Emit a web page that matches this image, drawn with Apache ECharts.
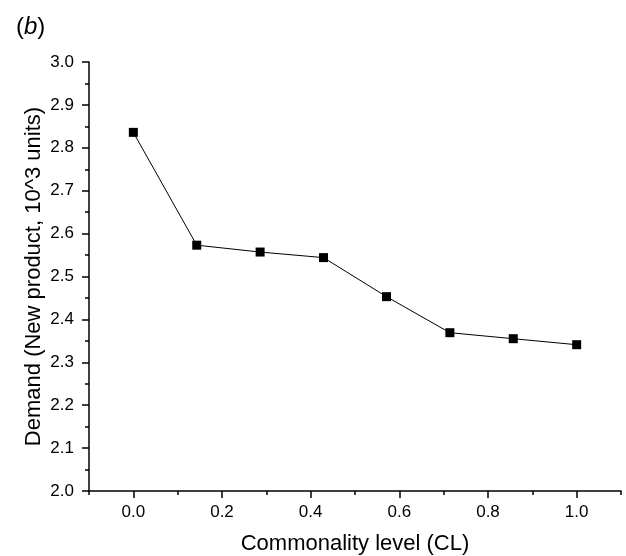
<!DOCTYPE html>
<html>
<head>
<meta charset="utf-8">
<script src="https://cdn.jsdelivr.net/npm/echarts@6/dist/echarts.min.js"></script>
<style>
  html, body { margin: 0; padding: 0; background: #fff; }
  #main { width: 626px; height: 556px; }
</style>
</head>
<body>
<div id="main"></div>
<script>
// commonality level (x) and demand of new product (y, 10^3 units)
const clLevels = [0, 0.143, 0.286, 0.429, 0.571, 0.714, 0.857, 1.0]
const demand = [2.836, 2.573, 2.557, 2.544, 2.453, 2.369, 2.355, 2.341]

const xTicks = [0, 0.2, 0.4, 0.6, 0.8, 1.0]
const xMinorTicks = [-0.1, 0.1, 0.3, 0.5, 0.7, 0.9, 1.1]

const font = 'Liberation Sans, Arial, sans-serif'

const chart = echarts.init(document.getElementById('main'), null, { renderer: 'canvas' })

chart.setOption({
  animation: false,
  backgroundColor: '#fff',
  title: {
    text: '({i|b})',
    left: 11,
    top: 10,
    textStyle: {
      fontFamily: font,
      fontSize: 24,
      fontWeight: 'normal',
      color: '#000',
      rich: {
        i: { fontFamily: font, fontSize: 24, fontStyle: 'italic', color: '#000' }
      }
    }
  },
  grid: {
    left: 89,
    right: 5,
    top: 62,
    bottom: 65,
    containLabel: false,
    outerBoundsMode: 'none'
  },
  xAxis: [
    {
      type: 'value',
      min: -0.1,
      max: 1.1,
      interval: 0.1,
      name: 'Commonality level (CL)',
      nameLocation: 'middle',
      nameGap: 42,
      nameMoveOverlap: false,
      nameTextStyle: { fontFamily: font, fontSize: 22, color: '#000' },
      axisLine: { onZero: false, lineStyle: { color: '#000', width: 1.5 } },
      axisTick: {
        inside: false,
        length: 7,
        customValues: xTicks,
        lineStyle: { color: '#000', width: 1.5 }
      },
      axisLabel: {
        customValues: xTicks,
        margin: 13,
        fontFamily: font,
        fontSize: 17,
        color: '#000',
        formatter: v => v.toFixed(1)
      },
      splitLine: { show: false }
    },
    {
      // minor ticks only
      type: 'value',
      position: 'bottom',
      min: -0.1,
      max: 1.1,
      interval: 0.1,
      axisLine: { show: false, onZero: false },
      axisTick: {
        length: 4,
        customValues: xMinorTicks,
        lineStyle: { color: '#000', width: 1.5 }
      },
      axisLabel: { show: false },
      splitLine: { show: false }
    }
  ],
  yAxis: {
    type: 'value',
    min: 2.0,
    max: 3.0,
    interval: 0.1,
    name: 'Demand (New product, 10^3 units)',
    nameLocation: 'middle',
    nameGap: 44,
    nameMoveOverlap: false,
    nameTextStyle: { fontFamily: font, fontSize: 22, color: '#000' },
    axisLine: { show: true, onZero: false, lineStyle: { color: '#000', width: 1.5 } },
    axisTick: { show: true, length: 7, lineStyle: { color: '#000', width: 1.5 } },
    minorTick: { show: true, splitNumber: 2, length: 4, lineStyle: { color: '#000', width: 1.5 } },
    axisLabel: {
      margin: 15,
      fontFamily: font,
      fontSize: 17,
      color: '#000',
      formatter: v => v.toFixed(1)
    },
    splitLine: { show: false },
    minorSplitLine: { show: false }
  },
  series: [
    {
      type: 'line',
      data: clLevels.map((x, i) => [x, demand[i]]),
      symbol: 'rect',
      symbolSize: 9,
      itemStyle: { color: '#000' },
      lineStyle: { color: '#000', width: 1 }
    }
  ]
})
</script>
</body>
</html>
